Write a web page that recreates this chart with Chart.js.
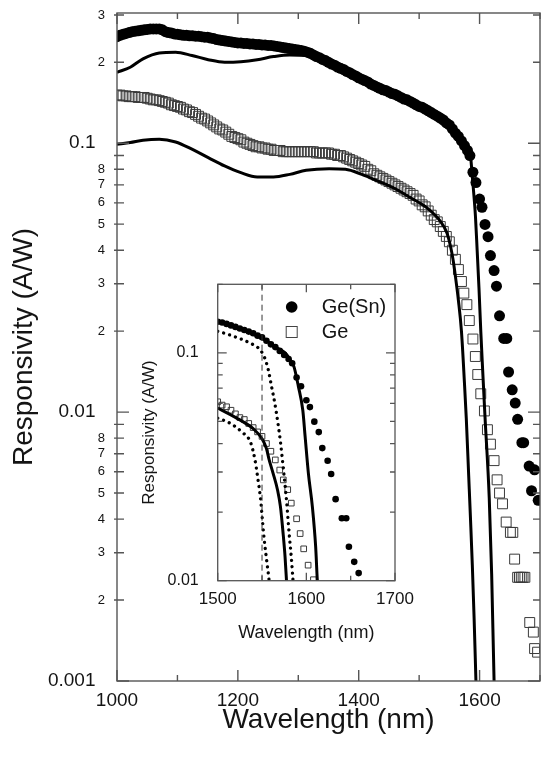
<!DOCTYPE html>
<html><head><meta charset="utf-8">
<script src="https://cdn.jsdelivr.net/npm/chart.js@4.4.1/dist/chart.umd.min.js"></script>
<style>
html,body{margin:0;padding:0;background:#fff;}
#wrap{position:relative;width:548px;height:758px;overflow:hidden;background:#fff;}
#main{position:absolute;left:0;top:0;}
#inset{position:absolute;left:130px;top:270px;}
</style></head><body>
<div id="wrap"><canvas id="main" width="548" height="758"></canvas><canvas id="inset" width="295" height="380"></canvas></div>
<script>
// ---------- data ----------
const seriesNames = ['Ge(Sn)', 'Ge'];
const xTitle = 'Wavelength (nm)';
const yTitle = 'Responsivity (A/W)';

const geSnWl = [
1000,1005,1010,1015,1020,1025,1030,1035,1040,1045,
1050,1055,1060,1065,1070,1075,1080,1085,1090,1095,
1100,1105,1110,1115,1120,1125,1130,1135,1140,1145,
1150,1155,1160,1165,1170,1175,1180,1185,1190,1195,
1200,1205,1210,1215,1220,1225,1230,1235,1240,1245,
1250,1255,1260,1265,1270,1275,1280,1285,1290,1295,
1300,1305,1310,1315,1320,1325,1330,1335,1340,1345,
1350,1355,1360,1365,1370,1375,1380,1385,1390,1395,
1400,1405,1410,1415,1420,1425,1430,1435,1440,1445,
1450,1455,1460,1465,1470,1475,1480,1485,1490,1495,
1500,1505,1510,1515,1520,1525,1530,1535,1540,1545,
1550,1555,1560,1565,1570,1575,
1580,1584,1589,1594,1600,1604,1609,1614,1618,1624,1628,1633,1640,1645,1648,1654,1659,1663,1670,1673,1682,1686,1691,1697];
const geSnResp = [
.249,.252,.254,.256,.258,.260,.261,.262,.263,.264,
.265,.266,.266,.266,.266,.264,.260,.258,.257,.255,
.254,.253,.252,.252,.251,.251,.250,.250,.249,.248,
.248,.246,.245,.243,.242,.241,.240,.239,.238,.237,
.236,.236,.235,.235,.234,.234,.233,.233,.232,.232,
.231,.231,.230,.229,.228,.227,.226,.225,.224,.223,
.222,.221,.220,.218,.216,.213,.210,.208,.205,.203,
.200,.197,.195,.192,.190,.188,.185,.183,.180,.178,
.175,.173,.171,.169,.166,.164,.162,.160,.158,.157,
.155,.153,.152,.150,.148,.146,.145,.143,.141,.139,
.137,.136,.134,.132,.130,.128,.126,.124,.122,.119,
.117,.113,.109,.106,.102,.098,
.094,.090,.078,.0714,.0620,.0578,.0499,.0449,.0382,.0336,.0294,.0228,.0188,.0188,.0141,.0121,.0108,.0094,.0077,.0077,.0063,.0051,.0061,.0047];

const geWl = [
1000,1005,1010,1015,1020,1025,1030,1035,1040,1045,
1050,1055,1060,1065,1070,1075,1080,1085,1090,1095,
1100,1105,1110,1115,1120,1125,1130,1135,1140,1145,
1150,1155,1160,1165,1170,1175,1180,1185,1190,1195,
1200,1205,1210,1215,1220,1225,1230,1235,1240,1245,
1250,1255,1260,1265,1270,1275,1280,1285,1290,1295,
1300,1305,1310,1315,1320,1325,1330,1335,1340,1345,
1350,1355,1360,1365,1370,1375,1380,1385,1390,1395,
1400,1405,1410,1415,1420,1425,1430,1435,1440,1445,
1450,1455,1460,1465,1470,1475,1480,1485,1490,1495,
1500,1505,1510,1515,1520,1525,1530,1535,1540,1545,
1550,1555,1560,
1565,1570,1574,1579,1583,1589,1593,1597,1602,1608,1613,1618,1624,1629,1633,1638,1644,1651,1655,1658,1663,1666,1669,1672,1675,1683,1689,1691,1696];
const geResp = [
.151,.151,.150,.150,.149,.149,.149,.148,.148,.148,
.147,.146,.145,.145,.144,.143,.142,.141,.139,.138,
.137,.136,.134,.133,.131,.130,.128,.126,.124,.123,
.121,.119,.117,.115,.113,.112,.110,.108,.106,.105,
.104,.103,.101,.100,.099,.098,.097,.097,.096,.096,
.095,.095,.094,.094,.094,.093,.093,.093,.093,.093,
.093,.093,.093,.093,.093,.093,.092,.092,.092,.092,
.092,.091,.091,.090,.090,.089,.088,.087,.086,.085,
.084,.083,.082,.080,.079,.077,.076,.075,.074,.073,
.072,.071,.070,.069,.068,.067,.066,.065,.064,.062,
.061,.059,.058,.056,.054,.052,.051,.049,.047,.045,
.043,.040,.037,
.0339,.0306,.0277,.0251,.0219,.0187,.0161,.0138,.0117,.0101,.0086,.0076,.0066,.0056,.0050,.00456,.0039,.00357,.00357,.00284,.00243,.00243,.00243,.00243,.00243,.00165,.00152,.00132,.00128];

// model curves, main panel
const modelGeSnWl = [1000,1022,1043,1070,1097,1124,1151,1178,1205,1232,1259,1286,1313,1350,1400,1450,1500,1530,1560,1575,1583.5,1588.8,1593.2,1596,1599,1602,1605,1609,1616,1620,1624,1628];
const modelGeSnResp = [.1836,.1917,.206,.2167,.218,.212,.2045,.200,.201,.2045,.210,.213,.212,.198,.174,.155,.137,.126,.111,.100,.095,.0715,.0534,.0400,.0290,.0200,.0145,.0096,.0048,.0025,.0010,.0005];
const modelGeWl = [1000,1022,1043,1070,1097,1124,1151,1178,1205,1232,1259,1286,1313,1351,1378,1405,1432,1459,1486,1513,1535,1546,1552,1556,1560,1565,1570,1575,1578,1582,1585,1588,1591,1594,1598];
const modelGeResp = [.0991,.1006,.1026,.1035,.1011,.0950,.0884,.0823,.0777,.0749,.0749,.0766,.0793,.0804,.0800,.0766,.0723,.0680,.0627,.0575,.0513,.0464,.0413,.0370,.0320,.0260,.0200,.0128,.0095,.0058,.0040,.0027,.0017,.0010,.0005];

// model curves, inset
const insetGeSnSolidWl = [1500,1520,1540,1555,1565,1576,1582,1586,1591,1596,1598.6,1602.3,1606.8,1610.5,1612.4,1614];
const insetGeSnSolidResp = [.137,.130,.121,.113,.106,.100,.093,.087,.0713,.056,.043,.0296,.0211,.0141,.0100,.0085];
const insetGeSolidWl = [1500,1525,1540,1550,1555,1558,1562.5,1567.5,1570.8,1573.8,1576,1577.6,1579];
const insetGeSolidResp = [.0573,.0508,.0465,.042,.038,.034,.0296,.025,.0211,.0161,.0127,.010,.008];
const insetGeSnDotWl = [1500,1517.5,1536,1547.5,1553,1557,1560.7,1564.4,1568,1571,1573.8,1577.6,1580.6,1583,1585,1586.5];
const insetGeSnDotResp = [.1245,.1184,.1106,.1034,.0951,.0844,.0713,.0602,.049,.040,.0316,.0226,.0161,.0127,.010,.0085];
const insetGeDotWl = [1500,1514,1527,1537,1542,1545.5,1548.5,1550.8,1552.5,1555.2,1558,1559.5];
const insetGeDotResp = [.0517,.0491,.0450,.0405,.0340,.0277,.0226,.0178,.0151,.0123,.010,.0085];
const markerWl = [1550, 1550];
const markerResp = [0.01, 0.2];

// ---------- helpers ----------
const FONT = "'Liberation Sans', Arial, Helvetica, sans-serif";
const TXT = '#141414';
const AX = '#555';
const toXY = (xs, ys) => xs.map((x, i) => ({x: x, y: ys[i]}));
const isDecade = v => Math.abs(Math.log10(v) - Math.round(Math.log10(v))) < 1e-6;
const mantissaRaw = v => v / Math.pow(10, Math.floor(Math.log10(v) + 1e-9));
const mantissa = v => Math.round(mantissaRaw(v));
const intMantissaOnly = s => {
  s.ticks = s.ticks.filter(t => { const m = mantissaRaw(t.value); return Math.abs(m - Math.round(m)) < 1e-6; });
};

const frame = {
  id: 'frame',
  afterDraw(chart, args, o) {
    const {ctx, chartArea: a, scales: {x, y}} = chart;
    ctx.save();
    ctx.strokeStyle = o.color; ctx.lineWidth = o.width;
    ctx.beginPath();
    x.ticks.forEach(t => {
      const p = x.getPixelForValue(t.value);
      const L = (Math.round(t.value) % o.xMajorStep === 0) ? o.xMajor : o.xMinor;
      ctx.moveTo(p, a.bottom); ctx.lineTo(p, a.bottom - L);
      ctx.moveTo(p, a.top); ctx.lineTo(p, a.top + L);
    });
    y.ticks.forEach(t => {
      const p = y.getPixelForValue(t.value);
      const maj = isDecade(t.value);
      const L = maj ? o.yMajor : o.yMinor;
      ctx.moveTo(a.left - (maj ? 0 : o.yOut), p); ctx.lineTo(a.left + L, p);
      ctx.moveTo(a.right, p); ctx.lineTo(a.right - L, p);
    });
    ctx.stroke();
    ctx.strokeRect(a.left, a.top, a.right - a.left, a.bottom - a.top);
    ctx.restore();
  }
};

const insetLegend = {
  id: 'insetLegend',
  afterDraw(chart) {
    const {ctx, chartArea: a} = chart;
    const mx = a.left + 74, y1 = a.top + 22.7, y2 = a.top + 47.7, tx = a.left + 104;
    ctx.save();
    ctx.fillStyle = '#000';
    ctx.beginPath(); ctx.arc(mx, y1, 5.8, 0, 2 * Math.PI); ctx.fill();
    ctx.strokeStyle = '#444'; ctx.lineWidth = 1;
    ctx.strokeRect(mx - 5.5, y2 - 5.5, 11, 11);
    ctx.font = '20px ' + FONT; ctx.textBaseline = 'middle'; ctx.textAlign = 'left'; ctx.fillStyle = TXT;
    ctx.fillText(seriesNames[0], tx, y1);
    ctx.fillText(seriesNames[1], tx, y2);
    ctx.restore();
  }
};

const lineDs = (label, xs, ys, extra) => Object.assign({
  label: label, data: toXY(xs, ys), showLine: true, borderColor: '#000', borderWidth: 3,
  pointRadius: 0, fill: false, cubicInterpolationMode: 'monotone'
}, extra || {});

// ---------- main chart ----------
new Chart(document.getElementById('main'), {
  type: 'scatter',
  data: { datasets: [
    lineDs('Ge(Sn) model', modelGeSnWl, modelGeSnResp),
    lineDs('Ge model', modelGeWl, modelGeResp),
    { label: seriesNames[0], data: toXY(geSnWl, geSnResp), showLine: false, pointStyle: 'circle',
      pointRadius: 5.5, backgroundColor: '#000', borderColor: '#000', borderWidth: 0 },
    { label: seriesNames[1], data: toXY(geWl, geResp), showLine: false, pointStyle: 'rect',
      pointRadius: 7, backgroundColor: 'rgba(0,0,0,0)', borderColor: '#3a3a3a', borderWidth: 1 }
  ]},
  options: {
    responsive: false, animation: false, devicePixelRatio: 1,
    layout: { padding: { top: 13, right: 0, left: 0, bottom: 0 } },
    plugins: {
      legend: { display: false }, tooltip: { enabled: false },
      frame: { color: AX, width: 1.4, xMajorStep: 200, xMajor: 11, xMinor: 6, yMajor: 12, yMinor: 7, yOut: 3 }
    },
    scales: {
      x: {
        type: 'linear', min: 1000, max: 1700,
        grid: { display: false }, border: { display: false },
        ticks: { stepSize: 100, autoSkip: false, maxRotation: 0, padding: 0, color: TXT,
                 font: { family: FONT, size: 19 }, callback: v => (v % 200 === 0 ? String(v) : '') },
        title: { display: true, text: xTitle, color: TXT, font: { family: FONT, size: 28 }, padding: { top: 0, bottom: 21 } },
        afterFit: s => { s.height = 77; s.paddingLeft = 0; s.paddingRight = 0; }
      },
      y: {
        type: 'logarithmic', min: 0.001, max: 0.305,
        grid: { display: false }, border: { display: false },
        afterBuildTicks: intMantissaOnly,
        ticks: { autoSkip: false, padding: 4, color: TXT,
                 font: c => ({ family: FONT, size: (c.tick && isDecade(c.tick.value)) ? 19 : 13 }),
                 callback: v => isDecade(v) ? v.toFixed(-Math.round(Math.log10(v))) + '\u2002'
                                            : (mantissa(v) <= 8 ? String(mantissa(v)) : '') },
        title: { display: true, text: yTitle, color: TXT, font: { family: FONT, size: 28 }, padding: { top: 7, bottom: 0 } },
        afterFit: s => { s.width = 117; s.paddingTop = 0; s.paddingBottom = 0; }
      }
    }
  },
  plugins: [frame]
});

// ---------- inset chart ----------
new Chart(document.getElementById('inset'), {
  type: 'scatter',
  data: { datasets: [
    lineDs('1550 nm', markerWl, markerResp, { borderWidth: 1, borderColor: '#333', borderDash: [6, 4], cubicInterpolationMode: 'default' }),
    lineDs('Ge(Sn) model', insetGeSnSolidWl, insetGeSnSolidResp),
    lineDs('Ge model', insetGeSolidWl, insetGeSolidResp),
    lineDs('Ge(Sn) model 2', insetGeSnDotWl, insetGeSnDotResp, { borderWidth: 3.3, borderDash: [0.01, 6.2], borderCapStyle: 'round' }),
    lineDs('Ge model 2', insetGeDotWl, insetGeDotResp, { borderWidth: 3.3, borderDash: [0.01, 6.2], borderCapStyle: 'round' }),
    { label: seriesNames[0], data: toXY(geSnWl, geSnResp), showLine: false, pointStyle: 'circle',
      pointRadius: 3.3, backgroundColor: '#000', borderColor: '#000', borderWidth: 0 },
    { label: seriesNames[1], data: toXY(geWl, geResp), showLine: false, pointStyle: 'rect',
      pointRadius: 4, backgroundColor: 'rgba(0,0,0,0)', borderColor: '#3a3a3a', borderWidth: 1 }
  ]},
  options: {
    responsive: false, animation: false, devicePixelRatio: 1,
    layout: { padding: { top: 14.3, right: 30, left: 0, bottom: 0 } },
    plugins: {
      legend: { display: false }, tooltip: { enabled: false },
      frame: { color: AX, width: 1.3, xMajorStep: 100, xMajor: 8, xMinor: 5, yMajor: 9, yMinor: 5, yOut: 0 }
    },
    scales: {
      x: {
        type: 'linear', min: 1500, max: 1700,
        grid: { display: false }, border: { display: false },
        ticks: { stepSize: 50, autoSkip: false, maxRotation: 0, padding: 0, color: TXT,
                 font: { family: FONT, size: 17 }, callback: v => (v % 100 === 0 ? String(v) : '') },
        title: { display: true, text: xTitle, color: TXT, font: { family: FONT, size: 18 }, padding: { top: 0, bottom: 6.2 } },
        afterFit: s => { s.height = 69.3; s.paddingLeft = 0; s.paddingRight = 0; }
      },
      y: {
        type: 'logarithmic', min: 0.01, max: 0.2,
        grid: { display: false }, border: { display: false },
        afterBuildTicks: intMantissaOnly,
        ticks: { autoSkip: false, padding: 11, color: TXT, font: { family: FONT, size: 16 },
                 callback: v => isDecade(v) ? v.toFixed(-Math.round(Math.log10(v))) : '' },
        title: { display: true, text: yTitle, color: TXT, font: { family: FONT, size: 17 }, padding: { top: 8.8, bottom: 0 } },
        afterFit: s => { s.width = 87.7; s.paddingTop = 0; s.paddingBottom = 0; }
      }
    }
  },
  plugins: [frame, insetLegend]
});
</script>
</body></html>
